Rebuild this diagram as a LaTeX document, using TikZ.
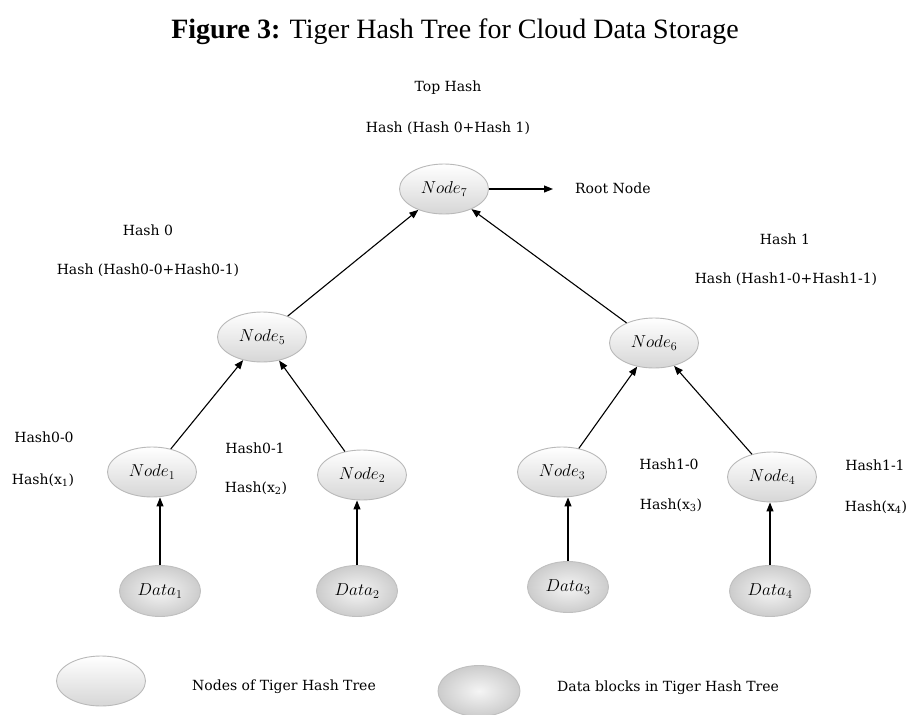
\documentclass[tikz,border=0pt]{standalone}
\usepackage{fontspec}
\setmainfont{Liberation Serif}
\newfontfamily\lblfont{DejaVu Serif}
\usetikzlibrary{shapes.geometric,arrows.meta}

\tikzset{
  hashnode/.style={ellipse, minimum width=89pt, minimum height=50pt, inner sep=0pt,
    draw=gray!55, line width=0.9pt, top color=white, bottom color=gray!32,
    font=\fontsize{18}{18}\selectfont},
  datanode/.style={ellipse, minimum width=81pt, minimum height=51pt, inner sep=0pt,
    draw=gray!50, line width=0.9pt, inner color=gray!8, outer color=gray!40,
    font=\fontsize{18}{18}\selectfont},
  lbl/.style={font=\lblfont\fontsize{14}{16}\selectfont, inner sep=0pt},
  link/.style={-{Triangle[length=9pt,width=7pt]}, line width=1.1pt}
}

\begin{document}
\begin{tikzpicture}[x=1pt,y=-1pt]
  \useasboundingbox (0,0) rectangle (911,715);

  % caption
  \node[font=\fontsize{28}{30}\selectfont] (title) at (455,32)
    {\textbf{Figure 3:} Tiger Hash Tree for Cloud Data Storage};

  % tree nodes
  \node[hashnode] (n7) at (444,189) {$Node_7$};
  \node[hashnode] (n5) at (262,337) {$Node_5$};
  \node[hashnode] (n6) at (654,343) {$Node_6$};
  \node[hashnode] (n1) at (152,472) {$Node_1$};
  \node[hashnode] (n2) at (362,475) {$Node_2$};
  \node[hashnode] (n3) at (562,472) {$Node_3$};
  \node[hashnode] (n4) at (772,477) {$Node_4$};

  % data blocks
  \node[datanode] (d1) at (160,591) {$Data_1$};
  \node[datanode] (d2) at (357,591) {$Data_2$};
  \node[datanode] (d3) at (568,587) {$Data_3$};
  \node[datanode] (d4) at (770,591) {$Data_4$};

  % hash labels
  \node[lbl] (th)  at (448,88)  {Top Hash};
  \node[lbl] (thh) at (448,128) {Hash (Hash 0+Hash 1)};
  \node[lbl] (h0)  at (148,230) {Hash 0};
  \node[lbl] (h0h) at (148,270) {Hash (Hash0-0+Hash0-1)};
  \node[lbl] (h1)  at (785,239) {Hash 1};
  \node[lbl] (h1h) at (786,279) {Hash (Hash1-0+Hash1-1)};
  \node[lbl] (h00) at (44,437)  {Hash0-0};
  \node[lbl] (x1)  at (43,480)  {Hash(x\textsubscript{1})};
  \node[lbl] (h01) at (255,448) {Hash0-1};
  \node[lbl] (x2)  at (256,488) {Hash(x\textsubscript{2})};
  \node[lbl] (h10) at (669,464) {Hash1-0};
  \node[lbl] (x3)  at (671,505) {Hash(x\textsubscript{3})};
  \node[lbl] (h11) at (875,465) {Hash1-1};
  \node[lbl] (x4)  at (876,507) {Hash(x\textsubscript{4})};

  % root marker
  \coordinate (rootend) at (553,189);
  \node[lbl, anchor=west] (root) at (575,188) {Root Node};
  \draw[link] (n7.east) -- (rootend);

  % tree links
  \draw[link] (n5) -- (n7);
  \draw[link] (n6) -- (n7);
  \draw[link] (n1) -- (n5);
  \draw[link] (n2) -- (n5);
  \draw[link] (n3) -- (n6);
  \draw[link] (n4) -- (n6);
  \draw[link] (d1.north) -- (d1.north |- n1.south);
  \draw[link] (d2.north) -- (d2.north |- n2.south);
  \draw[link] (d3.north) -- (d3.north |- n3.south);
  \draw[link] (d4.north) -- (d4.north |- n4.south);

  % legend
  \node[hashnode] (legn) at (101,681) {};
  \node[lbl, anchor=west] (legnt) at (192,687) {Nodes of Tiger Hash Tree};
  \node[datanode, minimum width=82pt] (legd) at (479,691) {};
  \node[lbl, anchor=west] (legdt) at (557,688) {Data blocks in Tiger Hash Tree};
\end{tikzpicture}
\end{document}
